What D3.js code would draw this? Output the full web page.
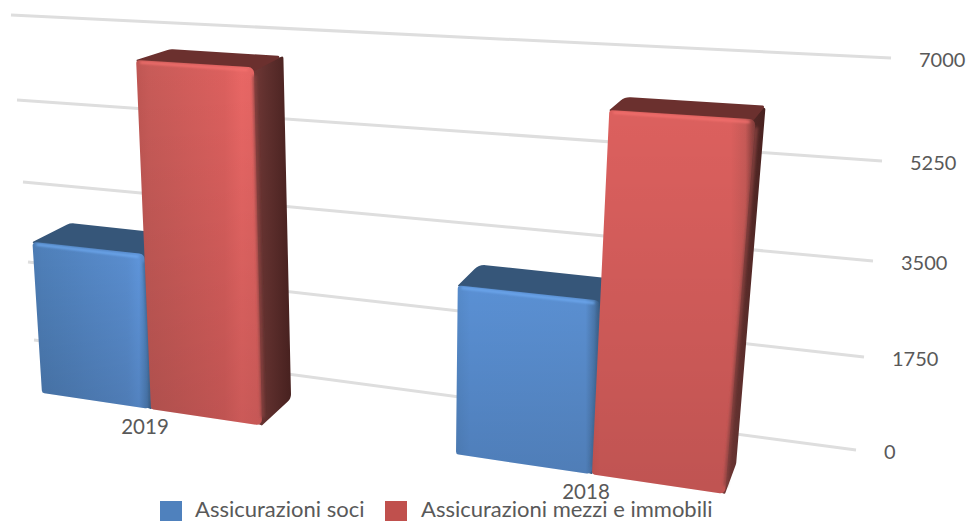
<!DOCTYPE html>
<html>
<head>
<meta charset="utf-8">
<script src="https://cdn.jsdelivr.net/npm/d3@7"></script>
<style>
  html, body { margin: 0; padding: 0; background: #fff; overflow: hidden; }
  text { font-family: Lato, "Open Sans", sans-serif; fill: #595959; }
</style>
</head>
<body>
<div id="chart"></div>
<script>
// values
var categories = ["2019", "2018"];
var seriesNames = ["Assicurazioni soci", "Assicurazioni mezzi e immobili"];
var soci = [3050, 3100];
var mezzi = [6870, 6500];
var valueTicks = [0, 1750, 3500, 5250, 7000];

var width = 968, height = 521;

var svg = d3.select("#chart").append("svg")
    .attr("width", width)
    .attr("height", height)
    .style("display", "block");

var defs = svg.append("defs");

// back wall, the ends of each gridline
var wallLeftX = d3.scaleLinear().domain(valueTicks).range([34, 28, 23, 17, 11]);
var wallLeftY = d3.scaleLinear().domain(valueTicks).range([340, 262, 182, 100, 15]);
var wallRightX = d3.scaleLinear().domain(valueTicks).range([856, 864, 873, 882, 891]);
var wallRightY = d3.scaleLinear().domain(valueTicks).range([450, 357, 261, 161, 58]);

// front plane of the bars, the chart is seen in perspective
var groupBand = d3.scaleBand().domain(categories).range([0, 5.6]).paddingInner(1.6 / 3.6);
var seriesBand = d3.scaleBand().domain(seriesNames).range([0, groupBand.bandwidth()]);
var floorX = d3.scaleLinear().domain([0, 1, 2, 3.6, 4.6, 5.6]).range([42, 151, 262, 456, 592, 725]);
var floorY = d3.scaleLinear().domain([42, 725]).range([393, 494]);
var fullHeight = d3.scaleLinear().domain([95, 660]).range([351, 398]);
var fullShift = d3.scaleLinear().domain([42, 456, 725]).range([-22, 4, 33]);
var valueT = d3.scaleLinear().domain([0, 7000]).range([0, 1]);
var depthX = d3.scaleLinear().domain([32, 755]).range([38, 10]);
var depthY = d3.scaleLinear().domain([60, 490]).range([-11, -30]);

function project(u, v) {
    var xb = floorX(u), t = valueT(v);
    return [xb + fullShift(xb) * t, floorY(xb) - fullHeight(xb) * t];
}
function toBack(p) {
    return [p[0] + depthX(p[0]), p[1] + depthY(p[1])];
}
function roundPoly(pts, radii) {
    var path = d3.path(), n = pts.length;
    path.moveTo((pts[n - 1][0] + pts[0][0]) / 2, (pts[n - 1][1] + pts[0][1]) / 2);
    pts.forEach(function(p, i) {
        var next = pts[(i + 1) % n];
        path.arcTo(p[0], p[1], (p[0] + next[0]) / 2, (p[1] + next[1]) / 2, radii[i]);
    });
    path.closePath();
    return path.toString();
}

function addGradient(id, stops, x2, y2) {
    var g = defs.append("linearGradient").attr("id", id)
        .attr("x1", 0).attr("y1", 0).attr("x2", x2).attr("y2", y2);
    stops.forEach(function(s) {
        g.append("stop").attr("offset", s[0]).attr("stop-color", s[1]).attr("stop-opacity", s[2] === undefined ? 1 : s[2]);
    });
}
addGradient("front-0-0", [[0, "#4c7cb4"], [0.08, "#4f80ba"], [0.8, "#5a8ed0"], [0.9, "#5f96dc"], [0.97, "#4f80ba"], [1, "#3d648f"]], 1, 0);
addGradient("front-0-1", [[0, "#5589c8"], [0.1, "#5a90d4"], [0.9, "#5b90d2"], [0.96, "#4b78ad"], [1, "#38597e"]], 1, 0);
addGradient("front-1-0", [[0, "#bf5653"], [0.1, "#c85b58"], [0.7, "#dc605e"], [0.84, "#e96765"], [1, "#e26462"]], 1, 0);
addGradient("front-1-1", [[0, "#d45c5a"], [0.05, "#dc605e"], [0.85, "#dc605e"], [0.94, "#c75a57"], [1, "#7d3a38"]], 1, 0);
addGradient("side-1", [[0, "#7a3c3a"], [0.45, "#60302e"], [1, "#47211f"]], 1, 0);
addGradient("side-0", [[0, "#3d648f"], [1, "#2c4a6c"]], 1, 0);
addGradient("shade", [[0, "#000", 0], [1, "#000", 0.13]], 0, 1);
function addBlur(id, amount) {
    defs.append("filter").attr("id", id)
        .attr("filterUnits", "userSpaceOnUse")
        .attr("x", 0).attr("y", 0).attr("width", width).attr("height", height)
        .append("feGaussianBlur").attr("stdDeviation", amount);
}
addBlur("soft", 0.9);
addBlur("softer", 1.6);

// gridlines
svg.append("g").selectAll("line")
    .data(valueTicks)
    .join("line")
    .attr("x1", wallLeftX)
    .attr("y1", wallLeftY)
    .attr("x2", wallRightX)
    .attr("y2", wallRightY)
    .attr("stroke", "#dedede")
    .attr("stroke-width", 3);

// value labels
svg.append("g").selectAll("text")
    .data(valueTicks)
    .join("text")
    .attr("x", function(d) { return wallRightX(d) + 28; })
    .attr("y", function(d) { return wallRightY(d) + 9; })
    .attr("font-size", 20)
    .text(function(d) { return d; });

var topColors = ["#365679", "#6b302e"];
var highlightColors = ["#6fabf2", "#f6726f"];
var bevelColors = ["#3f6691", "#8a4240"];
var seriesValues = [soci, mezzi];
var bars = svg.append("g");

categories.forEach(function(cat, c) {
    seriesNames.forEach(function(name, s) {
        var u0 = groupBand(cat) + seriesBand(name);
        var u1 = u0 + seriesBand.bandwidth();
        var v = seriesValues[s][c];
        var ftl = project(u0, v), ftr = project(u1, v), fbr = project(u1, 0), fbl = project(u0, 0);
        var btl = toBack(ftl), btr = toBack(ftr), bbr = toBack(fbr);
        // inner corners run under the front face so no seam shows
        var ftrIn = [ftr[0] - 8, ftr[1] + 8], ftlIn = [ftl[0] + 8, ftl[1] + 8], fbrIn = [fbr[0] - 8, fbr[1] - 3];
        var bar = bars.append("g");

        // the corners at btr and ftl are very sharp, a big radius would cut them off
        bar.append("path")
            .attr("d", roundPoly([[ftrIn[0], ftrIn[1] - 6], btr, bbr, fbr, fbrIn], [0, 1.5, 10, 1, 0]))
            .attr("fill", "url(#side-" + s + ")");
        bar.append("path")
            .attr("d", roundPoly([ftl, btl, btr, ftrIn, ftlIn], [0.5, 14, 1.5, 0, 0]))
            .attr("fill", topColors[s]);

        var front = roundPoly([ftl, ftr, fbr, fbl], [3, 6, 5, 3]);
        bar.append("path").attr("d", front).attr("fill", "url(#front-" + s + "-" + c + ")");
        bar.append("path").attr("d", front).attr("fill", "url(#shade)");
        bar.append("line")
            .attr("x1", ftr[0] + 0.5).attr("y1", ftr[1] + 8)
            .attr("x2", fbr[0] + 0.5).attr("y2", fbr[1] - 8)
            .attr("stroke", bevelColors[s])
            .attr("stroke-width", 3)
            .attr("filter", "url(#softer)");
        bar.append("line")
            .attr("x1", ftl[0] + 4).attr("y1", ftl[1] + 2.5)
            .attr("x2", ftr[0] - 6).attr("y2", ftr[1] + 2.5)
            .attr("stroke", highlightColors[s])
            .attr("stroke-width", 2)
            .attr("filter", "url(#soft)");
    });
});

// category labels
svg.append("g").selectAll("text")
    .data(categories)
    .join("text")
    .attr("x", function(d) { return floorX(groupBand(d) + groupBand.bandwidth() / 2) - 6; })
    .attr("y", function(d) { return floorY(floorX(groupBand(d) + groupBand.bandwidth() / 2)) + 25; })
    .attr("text-anchor", "middle")
    .attr("font-size", 20.5)
    .text(function(d) { return d; });

// legend
var legendX = d3.scaleOrdinal().domain(seriesNames).range([160, 385]);
var legendColor = d3.scaleOrdinal().domain(seriesNames).range(["#4f81bd", "#c0504d"]);
var legend = svg.append("g").selectAll("g")
    .data(seriesNames)
    .join("g")
    .attr("transform", function(d) { return "translate(" + legendX(d) + ",501)"; });
legend.append("rect")
    .attr("width", 22)
    .attr("height", 20)
    .attr("fill", legendColor);
legend.append("text")
    .attr("x", function(d, i) { return i ? 36 : 35; })
    .attr("y", 15.5)
    .attr("font-size", 22)
    .text(function(d) { return d; });
</script>
</body>
</html>
